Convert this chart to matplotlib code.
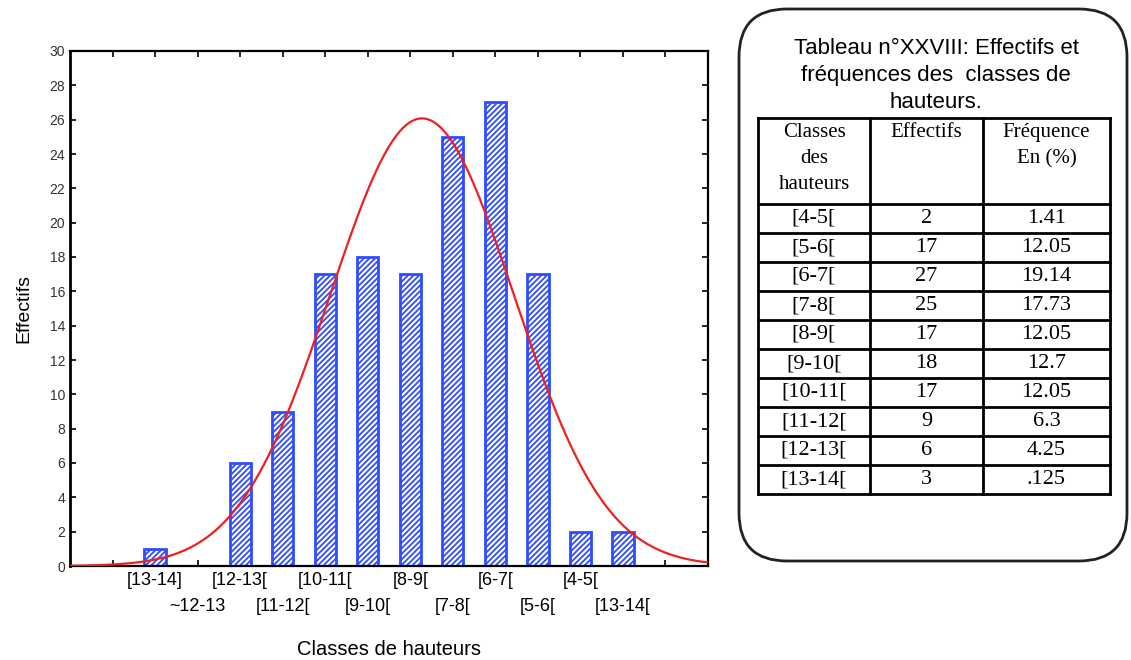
import numpy as np
import matplotlib.pyplot as plt
from matplotlib.patches import FancyBboxPatch

# histogram slots, left to right as printed under the bars
slot_labels = ['[13-14]', '~12-13', '[12-13[', '[11-12[', '[10-11[', '[9-10[',
               '[8-9[', '[7-8[', '[6-7[', '[5-6[', '[4-5[', '[13-14[']
slot_counts = [1, 0, 6, 9, 17, 18, 17, 25, 27, 17, 2, 2]

# table on the right
tab_classes = ['[4-5[', '[5-6[', '[6-7[', '[7-8[', '[8-9[', '[9-10[',
               '[10-11[', '[11-12[', '[12-13[', '[13-14[']
tab_effectifs = ['2', '17', '27', '25', '17', '18', '17', '9', '6', '3']
tab_freq = ['1.41', '12.05', '19.14', '17.73', '12.05', '12.7',
            '12.05', '6.3', '4.25', '.125']

plt.rcParams['font.family'] = ['Liberation Sans', 'DejaVu Sans']
blue = '#2f4cff'
red = '#ee2020'

fig = plt.figure(figsize=(11.31, 6.6), dpi=100)
W, H = 1131, 660
ax = fig.add_axes([70 / W, 1 - 566 / H, (708 - 70) / W, (566 - 51) / H])

x = np.arange(len(slot_counts))
plt.rcParams['hatch.color'] = blue
plt.rcParams['hatch.linewidth'] = 1.3
ax.bar(x, slot_counts, width=0.5, facecolor='white', edgecolor=blue,
       hatch='//////', linewidth=2, zorder=2)

# fitted normal curve (from the histogram counts)
counts = np.array(slot_counts, dtype=float)
n = counts.sum()
mu = (counts * x).sum() / n
sd = np.sqrt((counts * (x - mu) ** 2).sum() / n)
xs = np.linspace(-2, 13, 400)
ys = n / (sd * np.sqrt(2 * np.pi)) * np.exp(-(xs - mu) ** 2 / (2 * sd ** 2))
ax.plot(xs, ys, color=red, linewidth=1.6, zorder=3)

ax.set_xlim(-2, 13)
ax.set_ylim(0, 30)
ax.set_yticks(np.arange(0, 31, 2))
ax.set_xticks(np.arange(-1, 13))
ax.set_xticklabels([])
ax.tick_params(direction='in', top=True, right=True, length=4, width=1.2,
               labelsize=10, labelcolor='#333333')
for s in ax.spines.values():
    s.set_linewidth(1.6)
ax.spines['left'].set_linewidth(2)

for i, lab in enumerate(slot_labels):
    yoff = -0.012 if i % 2 == 0 else -0.062
    ax.text(i, yoff, lab, transform=ax.get_xaxis_transform(), ha='center',
            va='top', fontsize=13)
ax.set_xlabel('Classes de hauteurs', fontsize=14.5, labelpad=50)
ax.set_ylabel('Effectifs', fontsize=14, labelpad=12)

# right panel in pixel coordinates
pa = fig.add_axes([0, 0, 1, 1], zorder=-1)
pa.set_xlim(0, W)
pa.set_ylim(H, 0)
pa.axis('off')
box = FancyBboxPatch((739, 9), 1127 - 739, 561 - 9,
                     boxstyle='round,pad=0,rounding_size=48',
                     facecolor='white', edgecolor='#222222', linewidth=2)
pa.add_patch(box)
for yy, line in zip([48, 76, 102], ['Tableau n°XXVIII: Effectifs et',
                                    'fréquences des  classes de',
                                    'hauteurs.']):
    pa.text(936, yy, line, ha='center', va='center', fontsize=16)

tx = [758, 870, 983, 1110]
top, head_bot, row_h = 118, 204, 29
nrows = len(tab_classes)
bot = head_bot + nrows * row_h
serif = 'Liberation Serif'
for xx in tx:
    pa.plot([xx, xx], [top, bot], color='black', linewidth=2)
pa.plot([tx[0], tx[-1]], [top, top], color='black', linewidth=2)
for r in range(nrows + 1):
    yy = head_bot + r * row_h
    pa.plot([tx[0], tx[-1]], [yy, yy], color='black', linewidth=2)

cx = [(tx[i] + tx[i + 1]) / 2 for i in range(3)]
pa.text(cx[0], 123, 'Classes\ndes\nhauteurs', ha='center', va='top',
        fontsize=15, family=serif, linespacing=1.5)
pa.text(cx[1], 123, 'Effectifs', ha='center', va='top', fontsize=15,
        family=serif)
pa.text(cx[2], 123, 'Fréquence\nEn (%)', ha='center', va='top', fontsize=15,
        family=serif, linespacing=1.5)
for r in range(nrows):
    yy = head_bot + (r + 0.5) * row_h
    for c, col in enumerate([tab_classes, tab_effectifs, tab_freq]):
        pa.text(cx[c], yy, col[r], ha='center', va='center', fontsize=16,
                family=serif)

fig.savefig('out.png', dpi=100)
